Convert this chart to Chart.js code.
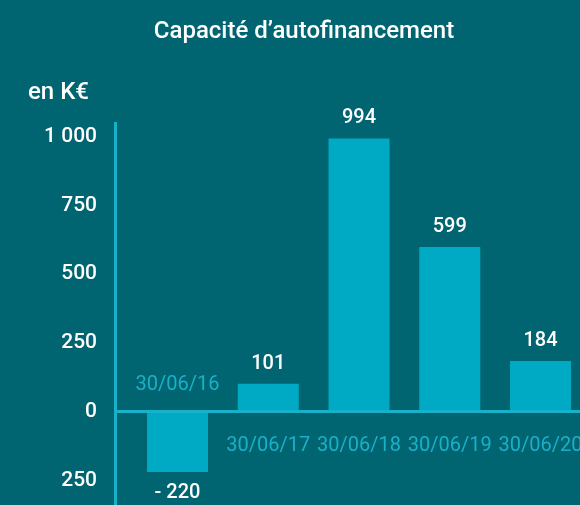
<!DOCTYPE html>
<html><head><meta charset="utf-8">
<script src="https://cdn.jsdelivr.net/npm/chart.js@4.4.1/dist/chart.umd.min.js"></script>
<style>html,body{margin:0;padding:0;background:#006570;overflow:hidden}canvas{display:block}</style>
</head><body>
<canvas id="c" width="580" height="505"></canvas>
<script>
const categories = ["30/06/16", "30/06/17", "30/06/18", "30/06/19", "30/06/20"];
const values = [-220, 101, 994, 599, 184];
const yTickValues = [-250, 0, 250, 500, 750, 1000];
const yTickLabels = ["250", "0", "250", "500", "750", "1 000"];
const titleText = "Capacité d’autofinancement";
const unitText = "en K€";

const BG = "#006570", BAR = "#00aac4", AXIS = "#17b1c9", LABEL = "#1ab0c9", WHITE = "#ffffff";
const FONT = "Roboto, 'DejaVu Sans', sans-serif";

const fmt = v => v < 0 ? "- " + Math.abs(v) : String(v);

const bgPlugin = {
  id: "bg",
  beforeDraw(chart) {
    const { ctx, width, height } = chart;
    ctx.save();
    ctx.fillStyle = BG;
    ctx.fillRect(0, 0, width, height);
    ctx.restore();
  }
};

const labelsPlugin = {
  id: "barLabels",
  afterDatasetsDraw(chart) {
    const { ctx } = chart;
    const meta = chart.getDatasetMeta(0);
    const zero = chart.scales.y.getPixelForValue(0);
    ctx.save();
    ctx.textAlign = "center";
    ctx.textBaseline = "middle";
    meta.data.forEach((bar, i) => {
      const v = values[i];
      ctx.fillStyle = WHITE;
      ctx.font = "500 20px " + FONT;
      ctx.fillText(fmt(v), bar.x, v < 0 ? bar.y + 21 : bar.y - 20);
      ctx.fillStyle = LABEL;
      ctx.font = "400 20px " + FONT;
      ctx.fillText(categories[i], bar.x, v < 0 ? zero - 27 : zero + 34);
    });
    ctx.restore();
  }
};

new Chart(document.getElementById("c"), {
  type: "bar",
  data: {
    datasets: [{
      data: values.map((v, i) => ({ x: i, y: v })),
      backgroundColor: BAR,
      borderWidth: 0,
      categoryPercentage: 0.672,
      barPercentage: 1
    }]
  },
  options: {
    responsive: false,
    animation: false,
    devicePixelRatio: 1,
    layout: { padding: { left: 28, right: 0, top: 0, bottom: 0 } },
    plugins: {
      legend: { display: false },
      tooltip: { enabled: false },
      title: {
        display: true, text: titleText, color: WHITE,
        font: { family: FONT, size: 24, weight: "500" },
        padding: { top: 18, bottom: 17 }
      },
      subtitle: {
        display: true, text: unitText, align: "start", color: WHITE,
        font: { family: FONT, size: 24, weight: "500" },
        padding: { top: 15, bottom: 16 }
      }
    },
    scales: {
      x: {
        type: "linear", display: false, offset: false, min: -0.689, max: 4.435,
        afterBuildTicks: s => { s.ticks = categories.map((c, i) => ({ value: i })); }
      },
      y: {
        min: -340, max: 1048,
        afterBuildTicks: s => { s.ticks = yTickValues.map(v => ({ value: v })); },
        afterFit: s => { s.width = 87; s.paddingTop = 0; s.paddingBottom = 0; },
        ticks: {
          color: WHITE, padding: 18,
          font: { family: FONT, size: 21, weight: "500" },
          callback: (v, i) => yTickLabels[i]
        },
        grid: {
          drawTicks: false, lineWidth: 3,
          color: c => (c.tick && c.tick.value === 0) ? AXIS : "rgba(0,0,0,0)"
        },
        border: { display: true, color: AXIS, width: 3 }
      }
    }
  },
  plugins: [bgPlugin, labelsPlugin]
});
</script>
</body></html>
